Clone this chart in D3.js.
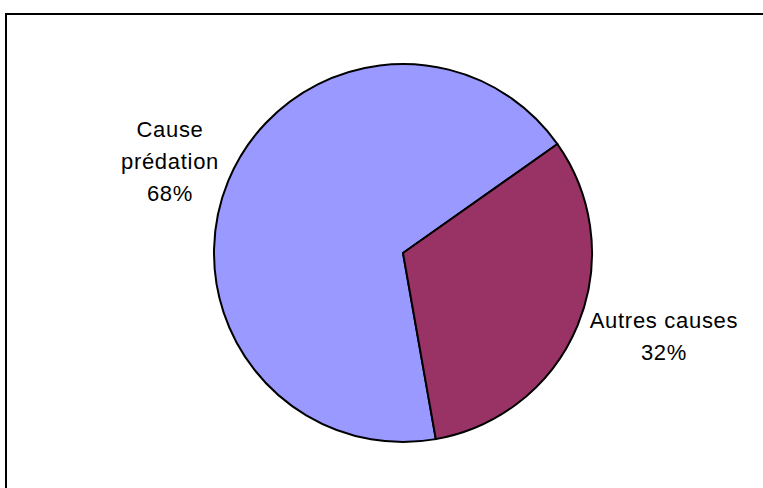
<!DOCTYPE html>
<html>
<head>
<meta charset="utf-8">
<script src="https://cdn.jsdelivr.net/npm/d3@7"></script>
<style>
  html, body { margin: 0; padding: 0; background: #fff; }
  svg { display: block; }
</style>
</head>
<body>
<svg id="chart" width="763" height="488"></svg>
<script>
// Causes de mortalité
const categories = ["Cause prédation", "Autres causes"];
const labelLines = [["Cause", "prédation"], ["Autres causes"]];
const values = [68, 32];
const colors = ["#9999FF", "#993366"];

const W = 763, H = 488;
const cx = 403, cy = 253, radius = 189;
const firstSliceAngle = 170; // degrees, clockwise from 12 o'clock

// label anchors (centre x, first baseline y) for each slice
const labelAnchors = [[170, 137], [664, 328]];
const lineHeight = 32;

const svg = d3.select("#chart");

// outer chart frame
svg.append("rect")
  .attr("x", 6).attr("y", 14)
  .attr("width", W + 20).attr("height", H + 20)
  .attr("fill", "none")
  .attr("stroke", "#000")
  .attr("stroke-width", 2);

const a0 = firstSliceAngle * Math.PI / 180;
const pie = d3.pie().sort(null).startAngle(a0).endAngle(a0 + 2 * Math.PI);
const arcs = pie(values);
const arc = d3.arc().innerRadius(0).outerRadius(radius);

const g = svg.append("g").attr("transform", `translate(${cx},${cy})`);
g.selectAll("path")
  .data(arcs)
  .join("path")
  .attr("d", arc)
  .attr("fill", (d, i) => colors[i])
  .attr("stroke", "#000")
  .attr("stroke-width", 2)
  .attr("stroke-linejoin", "round");

const total = d3.sum(values);
const fmt = v => Math.round(v / total * 100) + "%";

arcs.forEach((d, i) => {
  const [x, y] = labelAnchors[i];
  const lines = labelLines[i].concat([fmt(values[i])]);
  const t = svg.append("text")
    .attr("text-anchor", "middle")
    .attr("font-family", "Liberation Sans, Arial, sans-serif")
    .attr("font-size", 22)
    .attr("letter-spacing", 0.7)
    .attr("fill", "#000");
  lines.forEach((s, k) => {
    t.append("tspan").attr("x", x).attr("y", y + k * lineHeight).text(s);
  });
});
</script>
</body>
</html>
